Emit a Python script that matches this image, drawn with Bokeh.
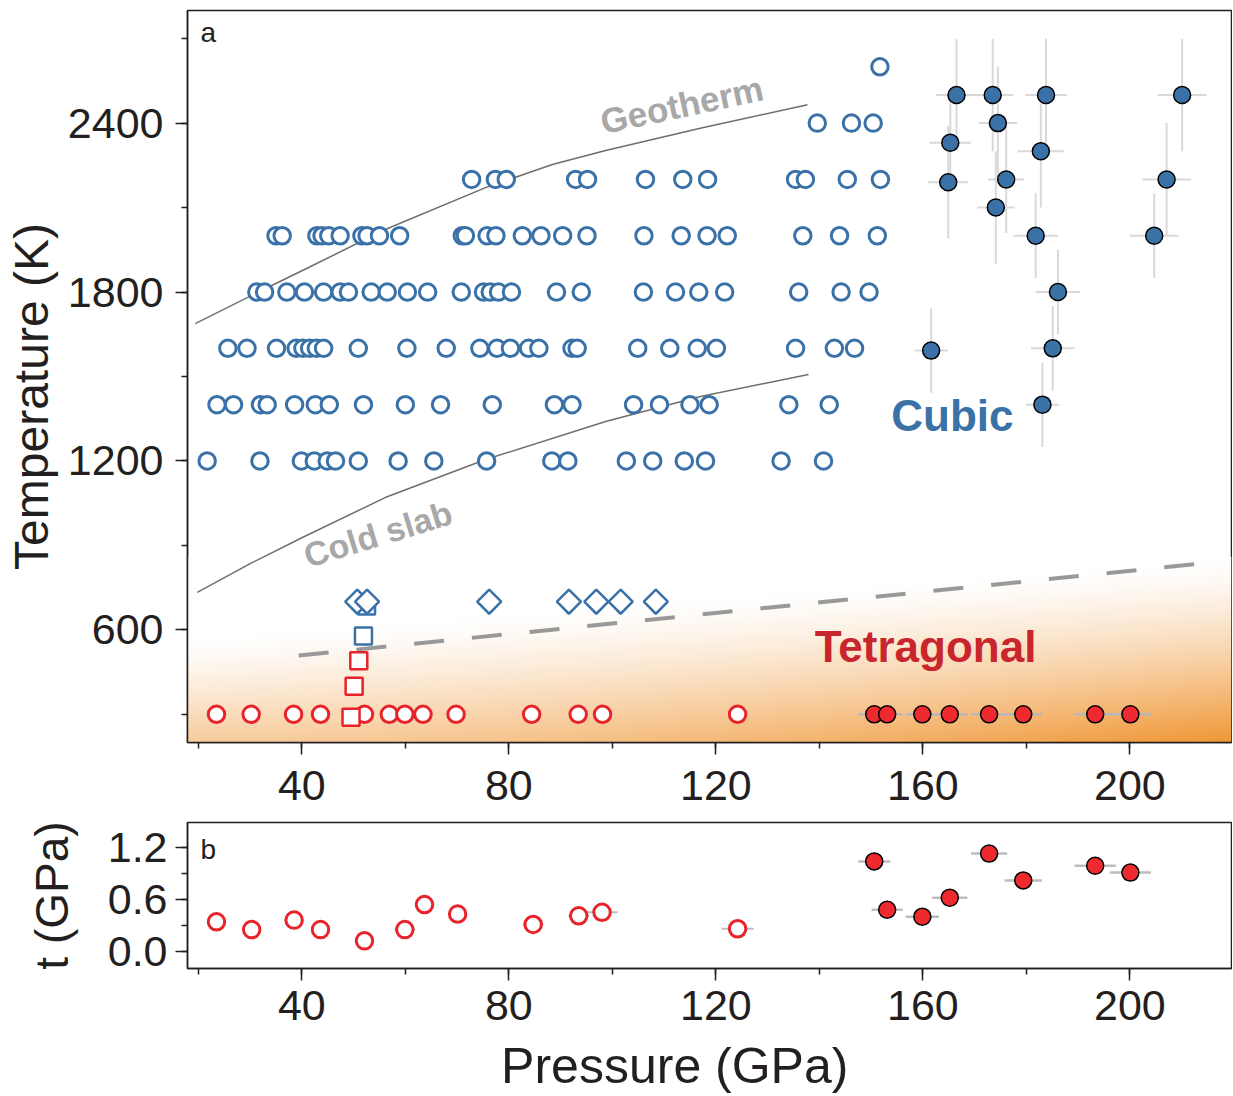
import numpy as np
from bokeh.plotting import figure
from bokeh.layouts import column
from bokeh.models import Range1d, SingleIntervalTicker, Label, PrintfTickFormatter
from bokeh.embed import file_html
from bokeh.resources import INLINE

FONT = "Liberation Sans"
INK = "#231f20"
BLUE = "#3a72a8"
RED = "#e8232a"
RED_FILL = "#ee2a2e"
NBSP = "\u00a0"

# ---------------- data: panel a (Pressure GPa, Temperature K) ----------------
row1200_P = [21.7, 31.9, 39.9, 42.4, 44.9, 46.5, 50.9, 58.6, 65.5, 75.7, 88.3, 91.4,
             102.7, 107.8, 113.9, 118.0, 132.6, 140.8]
row1400_P = [23.6, 26.8, 32.0, 33.3, 38.6, 42.6, 45.3, 51.9, 60.0, 66.8, 76.8, 88.8, 92.2,
             104.1, 109.1, 115.0, 118.7, 134.1, 141.9]
row1600_P = [25.7, 29.4, 35.1, 38.9, 40.2, 41.5, 42.8, 44.2, 50.9, 60.3, 67.9, 74.4, 77.7,
             80.3, 83.8, 85.8, 92.2, 93.2, 104.9, 111.1, 116.4, 120.1, 135.4, 142.9, 146.8]
row1800_P = [31.3, 32.8, 37.1, 40.5, 44.2, 47.4, 49.0, 53.4, 56.5, 60.4, 64.3, 70.8, 75.1,
             76.4, 78.0, 80.5, 89.2, 94.0, 106.0, 112.2, 116.7, 121.7, 136.0, 144.2, 149.6]
row2000_P = [35.0, 36.2, 42.9, 43.9, 45.2, 47.4, 51.6, 52.6, 55.0, 58.9, 71.0, 71.6, 75.8,
             77.5, 82.6, 86.2, 90.4, 95.1, 106.1, 113.3, 118.3, 122.2, 136.8, 143.9, 151.2]
row2200_P = [72.8, 77.4, 79.5, 92.9, 95.2, 106.4, 113.6, 118.4, 135.4, 137.3, 145.4, 151.8]
row2400_P = [139.6, 146.2, 150.4]
row2600_P = [151.7]
open_rows = {1200: row1200_P, 1400: row1400_P, 1600: row1600_P, 1800: row1800_P,
             2000: row2000_P, 2200: row2200_P, 2400: row2400_P, 2600: row2600_P}

diamond_P = [50.7, 52.6, 76.2, 91.6, 96.9, 101.6, 108.4]
diamond_T = [700, 700, 700, 700, 700, 700, 700]
bsq_P = [52.5, 51.9]
bsq_T = [685, 578]
rsq_P = [51.0, 50.1, 49.5]
rsq_T = [490, 400, 290]

red_open_P = [23.5, 30.2, 38.4, 43.6, 52.1, 56.9, 59.9, 63.4, 69.8, 84.4, 93.4, 98.1, 124.2]
red_open_T = [300] * 13

blue_fill_P = [166.5, 173.5, 183.8, 210.1, 174.5, 165.3, 182.8, 164.9, 176.1, 207.1,
               174.1, 181.8, 204.7, 186.1, 161.6, 185.1, 183.1]
blue_fill_T = [2500, 2500, 2500, 2500, 2400, 2330, 2300, 2190, 2200, 2200,
               2100, 2000, 2000, 1800, 1592, 1600, 1400]
blue_fill_dP = [4.0, 4.0, 4.0, 4.7, 3.7, 4.0, 4.5, 3.9, 3.5, 4.7, 3.6, 4.3, 4.7, 4.3, 3.2, 4.2, 3.2]
blue_fill_dT = [200, 200, 200, 200, 200, 150, 200, 200, 190, 200, 200, 150, 150, 150, 150, 150, 150]

red_fill_P = [150.6, 153.1, 159.9, 165.2, 172.8, 179.4, 193.3, 200.1]
red_fill_T = [300, 300, 300, 300, 300, 300, 300, 300]
red_fill_dP = [3.1, 3.0, 3.2, 3.4, 3.5, 3.6, 4.0, 4.0]

geo_P = [19.4, 32.6, 41.3, 56.1, 75.5, 88.4, 98.7, 117.2, 137.7]
geo_T = [1688, 1809, 1887, 2022, 2171, 2253, 2303, 2383, 2465]
slab_P = [19.8, 30.1, 40.1, 56.1, 75.5, 98.7, 117.0, 137.9]
slab_T = [733, 836, 928, 1070, 1205, 1340, 1429, 1507]
bnd_P = [39.4, 215.6]
bnd_T = [509, 839]

# ---------------- data: panel b (t, GPa) ----------------
b_open_P = [23.5, 30.3, 38.5, 43.6, 52.1, 59.9, 63.7, 70.1, 84.7, 93.5, 98.0, 124.2]
b_open_t = [0.34, 0.25, 0.36, 0.25, 0.12, 0.25, 0.54, 0.43, 0.31, 0.41, 0.45, 0.26]
b_open_dP = [1.0, 1.0, 1.0, 1.0, 1.0, 2.0, 1.0, 1.0, 2.0, 2.0, 3.0, 3.1]
b_fill_P = red_fill_P
b_fill_t = [1.04, 0.48, 0.40, 0.62, 1.13, 0.82, 0.99, 0.91]
b_fill_dP = red_fill_dP

X0, X1 = 17.9, 219.64


def style(p, xstand, ystand):
    for ax in (p.xaxis[0], p.yaxis[0]):
        ax.axis_line_width = 1.5
        ax.axis_line_color = INK
        ax.major_tick_line_width = 1.5
        ax.minor_tick_line_width = 1.5
        ax.major_tick_line_color = INK
        ax.minor_tick_line_color = INK
        ax.major_tick_out = 12
        ax.major_tick_in = 0
        ax.minor_tick_out = 6
        ax.minor_tick_in = 0
        ax.major_label_text_font = FONT
        ax.major_label_text_font_size = "43px"
        ax.major_label_text_color = INK
        ax.axis_label_text_font = FONT
        ax.axis_label_text_font_style = "normal"
        ax.axis_label_text_color = INK
    p.xaxis[0].major_label_standoff = xstand
    p.yaxis[0].major_label_standoff = ystand
    p.xgrid.visible = False
    p.ygrid.visible = False
    p.outline_line_color = INK
    p.outline_line_width = 1.5
    p.background_fill_color = "white"
    p.border_fill_color = "white"


# ---------------- panel a ----------------
p1 = figure(frame_width=1044, frame_height=732, x_range=Range1d(X0, X1), y_range=Range1d(200, 2800),
            output_backend="svg", toolbar_location=None,
            min_border_left=187, min_border_right=1, min_border_top=10, min_border_bottom=70)
style(p1, 16, 12)
p1.xaxis.ticker = SingleIntervalTicker(interval=40, num_minor_ticks=2)
p1.yaxis.ticker = SingleIntervalTicker(interval=600, num_minor_ticks=2)
p1.yaxis.axis_label = "Temperature (K)" + NBSP * 3
p1.yaxis.axis_label_text_font_size = "48px"
p1.yaxis.axis_label_standoff = 7

# orange gradient background for tetragonal field
H, W = 300, 420
gx = np.linspace(X0, X1, W)
gy = np.linspace(200, 860, H)
XX, YY = np.meshgrid(gx, gy)
Bd = 560 + (XX - 18) * (840 - 560) / 200
f = np.clip((Bd - YY) / (Bd - 200), 0, 1)
fr = np.clip((XX - 18) / 200, 0, 1)
s = f ** 1.3 * (0.5 + 0.5 * fr ** 1.5)
R = (255 - s * (255 - 240)).astype(np.uint32)
G = (255 - s * (255 - 152)).astype(np.uint32)
Bc = (255 - s * (255 - 55)).astype(np.uint32)
img = (255 << 24) | (Bc << 16) | (G << 8) | R
p1.image_rgba(image=[img.astype(np.uint32)], x=X0, y=200, dw=X1 - X0, dh=660)

p1.line(geo_P, geo_T, line_color="#6e6e6e", line_width=1.5)
p1.line(slab_P, slab_T, line_color="#6e6e6e", line_width=1.5)
p1.line(bnd_P, bnd_T, line_color="#999999", line_width=4, line_dash="30 28")

for T, Ps in open_rows.items():
    p1.scatter(Ps, [T] * len(Ps), marker="circle", size=16.5, fill_color="white",
               line_color=BLUE, line_width=3)

p1.scatter(red_open_P, red_open_T, marker="circle", size=16.5, fill_color="white",
           line_color=RED, line_width=3)
p1.scatter(bsq_P, bsq_T, marker="square", size=17, fill_color="white", line_color=BLUE, line_width=2.5)
p1.scatter(rsq_P, rsq_T, marker="square", size=17, fill_color="white", line_color=RED, line_width=2.5)
p1.scatter(diamond_P, diamond_T, marker="square", angle=np.pi / 4, size=17, fill_color="white",
           line_color=BLUE, line_width=2.5)

bP = np.array(blue_fill_P); bT = np.array(blue_fill_T)
bdP = np.array(blue_fill_dP); bdT = np.array(blue_fill_dT)
p1.segment(bP - bdP, bT, bP + bdP, bT, line_color="#d9d9d9", line_width=2)
p1.segment(bP, bT - bdT, bP, bT + bdT, line_color="#d9d9d9", line_width=2)
p1.scatter(blue_fill_P, blue_fill_T, marker="circle", size=17, fill_color=BLUE,
           line_color="black", line_width=1.5)

rP = np.array(red_fill_P); rT = np.array(red_fill_T); rdP = np.array(red_fill_dP)
p1.segment(rP - rdP, rT, rP + rdP, rT, line_color="#b8b8b8", line_width=2.5)
p1.scatter(red_fill_P, red_fill_T, marker="circle", size=17, fill_color=RED_FILL,
           line_color="black", line_width=1.5)

p1.add_layout(Label(x=20.41, y=2722, text="a", text_font=FONT, text_font_size="28px",
                    text_color=INK, text_baseline="alphabetic"))
p1.add_layout(Label(x=113.4, y=2465, text="Geotherm", text_font=FONT, text_font_size="35px",
                    text_font_style="bold", text_color="#a8a8a8", text_align="center",
                    text_baseline="alphabetic", angle=12, angle_units="deg"))
p1.add_layout(Label(x=54.7, y=940, text="Cold slab", text_font=FONT, text_font_size="34px",
                    text_font_style="bold", text_color="#a8a8a8", text_align="center",
                    text_baseline="alphabetic", angle=17, angle_units="deg"))
p1.add_layout(Label(x=153.9, y=1361, text="Cubic", text_font=FONT, text_font_size="44px",
                    text_font_style="bold", text_color=BLUE, text_baseline="alphabetic"))
p1.add_layout(Label(x=139.1, y=542, text="Tetragonal", text_font=FONT, text_font_size="44px",
                    text_font_style="bold", text_color="#c8252c", text_baseline="alphabetic"))

# ---------------- panel b ----------------
p2 = figure(frame_width=1044, frame_height=146, x_range=p1.x_range, y_range=Range1d(-0.2, 1.49),
            output_backend="svg", toolbar_location=None,
            min_border_left=187, min_border_right=1, min_border_top=10, min_border_bottom=126)
style(p2, 10, 8)
p2.xaxis.ticker = SingleIntervalTicker(interval=40, num_minor_ticks=2)
p2.yaxis.ticker = SingleIntervalTicker(interval=0.6, num_minor_ticks=2)
p2.yaxis.formatter = PrintfTickFormatter(format="%.1f")
p2.yaxis.axis_label = "t (GPa)"
p2.yaxis.axis_label_text_font_size = "46px"
p2.yaxis.axis_label_standoff = 27
p2.xaxis.axis_label = "Pressure (GPa)" + NBSP * 5
p2.xaxis.axis_label_text_font_size = "50px"
p2.xaxis.axis_label_standoff = 15

oP = np.array(b_open_P); ot = np.array(b_open_t); odP = np.array(b_open_dP)
p2.segment(oP - odP, ot, oP + odP, ot, line_color="#bdbdbd", line_width=2)
p2.scatter(b_open_P, b_open_t, marker="circle", size=16.5, fill_color="white",
           line_color=RED, line_width=3)
fP = np.array(b_fill_P); ft = np.array(b_fill_t); fdP = np.array(b_fill_dP)
p2.segment(fP - fdP, ft, fP + fdP, ft, line_color="#bdbdbd", line_width=2.5)
p2.scatter(b_fill_P, b_fill_t, marker="circle", size=17, fill_color=RED_FILL,
           line_color="black", line_width=1.5)

p2.add_layout(Label(x=20.41, y=1.178, text="b", text_font=FONT, text_font_size="28px",
                    text_color=INK, text_baseline="alphabetic"))

layout = column(p1, p2, spacing=0)
open("out.html", "w").write(file_html(layout, INLINE))
